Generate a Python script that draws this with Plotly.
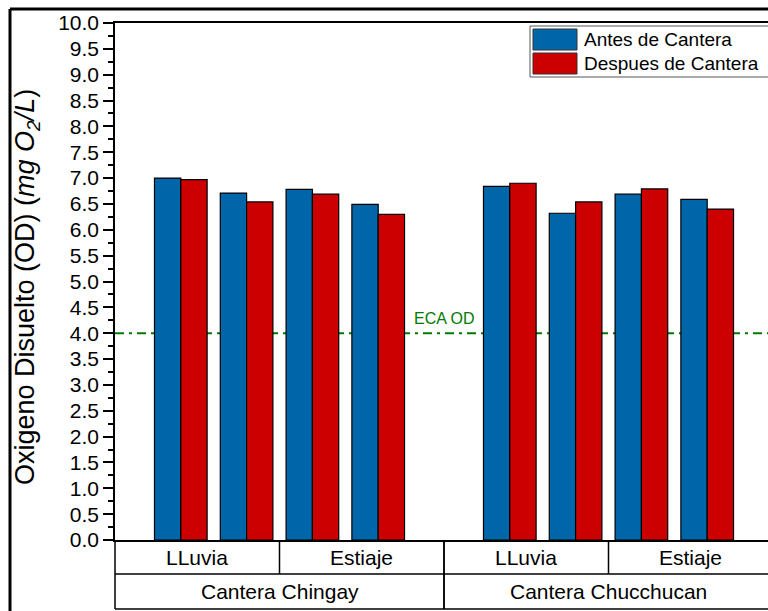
import plotly.graph_objects as go

# data
groups = ["Cantera Chingay", "Cantera Chucchucan"]
seasons = ["LLuvia", "Estiaje"]
antes = [7.00, 6.71, 6.78, 6.49, 6.84, 6.32, 6.69, 6.59]
despues = [6.97, 6.54, 6.69, 6.30, 6.90, 6.54, 6.79, 6.40]
y_ticks = [i * 0.5 for i in range(21)]
eca_od = 4.0

BLUE = "#0066AA"
RED = "#CC0000"
GREEN = "#007A00"
FONT = "Arial, Liberation Sans, sans-serif"

W, H = 768, 611
L, R, T, B = 115, 0, 23, 71
X0, X1 = -1.0, 8.924

# two bar pairs per season, one empty slot between the quarries
pos = [g * 5 + s * 2 + k for g in range(2) for s in range(2) for k in range(2)]


def px(v):
    return (v - X0) / (X1 - X0)


def py(pixel_y):
    return (H - B - pixel_y) / (H - T - B)


def pxx(pixel_x):
    return (pixel_x - L) / (W - L - R)


fig = go.Figure()
fig.add_trace(go.Bar(
    x=pos, y=antes, name="Antes de Cantera", width=0.4, offset=-0.4,
    marker=dict(color=BLUE, line=dict(color="black", width=1.2)),
))
fig.add_trace(go.Bar(
    x=pos, y=despues, name="Despues de Cantera", width=0.4, offset=0,
    marker=dict(color=RED, line=dict(color="black", width=1.2)),
))

shapes = []
annotations = []

# ECA reference line, behind bars
shapes.append(dict(type="line", xref="paper", yref="y", x0=0, x1=1, y0=eca_od, y1=eca_od,
                   line=dict(color=GREEN, width=2, dash="9px,5px,3px,5px"), layer="below"))
annotations.append(dict(x=4, y=eca_od, xref="x", yref="y", text="ECA OD", showarrow=False,
                        xanchor="center", yanchor="bottom", yshift=4,
                        font=dict(family=FONT, size=16, color=GREEN)))

# category table under the axis
row1, row2 = py(574), py(609)
line = dict(color="black", width=1.5)
cell_font = dict(family=FONT, size=21, color="black")
for g, gname in enumerate(groups):
    base = g * 5
    for xv in [base - 1, base + 1.5, base + 4]:
        shapes.append(dict(type="line", xref="paper", yref="paper", x0=px(xv), x1=px(xv),
                           y0=0, y1=row1, line=line))
    for xv in [base - 1, base + 4]:
        shapes.append(dict(type="line", xref="paper", yref="paper", x0=px(xv), x1=px(xv),
                           y0=row1, y1=row2, line=line))
    for s, sname in enumerate(seasons):
        cx = base + 0.25 + s * 2.5
        annotations.append(dict(x=px(cx), y=row1 / 2, xref="paper", yref="paper", text=sname,
                                showarrow=False, xanchor="center", yanchor="middle", font=cell_font))
    annotations.append(dict(x=px(base + 1.5), y=(row1 + row2) / 2, xref="paper", yref="paper",
                            text=gname, showarrow=False, xanchor="center", yanchor="middle",
                            font=cell_font))
for yv in [row1, row2]:
    shapes.append(dict(type="line", xref="paper", yref="paper", x0=0, x1=1.02, y0=yv, y1=yv, line=line))

# outer frame of the figure page
shapes.append(dict(type="line", xref="paper", yref="paper", x0=pxx(10), x1=1.05, y0=py(9), y1=py(9),
                   line=dict(color="black", width=3)))
shapes.append(dict(type="line", xref="paper", yref="paper", x0=pxx(10), x1=pxx(10), y0=py(9), y1=py(640),
                   line=dict(color="black", width=3)))

# legend box drawn by hand to get the large swatches
shapes.append(dict(type="rect", xref="paper", yref="paper", x0=pxx(530), x1=pxx(800), y0=py(26), y1=py(77),
                   line=dict(color="#555555", width=1), fillcolor="white"))
for i, (name, col) in enumerate([("Antes de Cantera", BLUE), ("Despues de Cantera", RED)]):
    top = 29 + i * 24
    shapes.append(dict(type="rect", xref="paper", yref="paper", x0=pxx(533), x1=pxx(577),
                       y0=py(top), y1=py(top + 21), line=dict(color="#333333", width=1), fillcolor=col))
    annotations.append(dict(x=pxx(582), y=py(top + 10.5), xref="paper", yref="paper", text=name,
                            showarrow=False, xanchor="left", yanchor="middle",
                            font=dict(family=FONT, size=19, color="black")))

# y axis title
annotations.append(dict(x=pxx(27), y=py(287), xref="paper", yref="paper",
                        text="Oxigeno Disuelto (OD) (<i>mg O<sub>2</sub>/L</i>)",
                        textangle=-90, showarrow=False, xanchor="center", yanchor="middle",
                        font=dict(family=FONT, size=27, color="black")))

fig.update_layout(
    width=W, height=H,
    margin=dict(l=L, r=R, t=T, b=B),
    paper_bgcolor="white", plot_bgcolor="white",
    barmode="overlay", showlegend=False,
    font=dict(family=FONT, color="black"),
    shapes=shapes, annotations=annotations,
)
fig.update_xaxes(range=[X0, X1], showticklabels=False, ticks="", showgrid=False, zeroline=False,
                 showline=True, linecolor="black", linewidth=1.5, mirror=True)
fig.update_yaxes(range=[0, 10], tickvals=y_ticks, tickformat=".1f", ticks="outside", ticklen=10,
                 tickwidth=1.5, tickcolor="black", showgrid=False, zeroline=False,
                 showline=True, linecolor="black", linewidth=1.5,
                 tickfont=dict(family=FONT, size=21, color="black"),
                 minor=dict(ticks="outside", ticklen=5, tickwidth=1.5, tickcolor="black", dtick=0.25))

# page body margin would otherwise shift the figure by 8px
fig.write_html("out.html", config={"displayModeBar": False},
               post_script="document.body.style.margin='0';")
